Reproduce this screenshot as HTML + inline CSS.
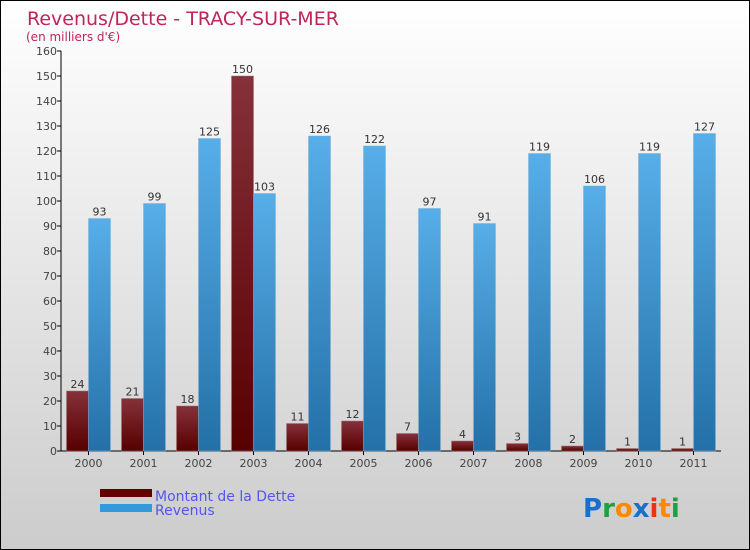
<!DOCTYPE html>
<html><head><meta charset="utf-8"><style>
body{margin:0;}
#wrap{position:relative;width:748px;height:548px;border:1px solid #000;background:linear-gradient(#fff,#ccc);font-family:"DejaVu Sans","Liberation Sans",sans-serif;overflow:hidden}
svg text{font-family:"DejaVu Sans","Liberation Sans",sans-serif}
</style></head><body>
<div id="wrap">
<svg id="chart" width="748" height="548">
<defs>
<linearGradient id="gd" x1="0" y1="0" x2="0" y2="1"><stop offset="0" stop-color="#86303a"/><stop offset="1" stop-color="#560000"/></linearGradient>
<linearGradient id="gr" x1="0" y1="0" x2="0" y2="1"><stop offset="0" stop-color="#57aee8"/><stop offset="1" stop-color="#2470a8"/></linearGradient>
</defs>
<text x="26" y="24" font-size="19" fill="#c0245a">Revenus/Dette - TRACY-SUR-MER</text>
<text x="25" y="40" font-size="12" fill="#c0245a">(en milliers d'€)</text>
<g id="axes"></g><g id="bars"></g>
<rect x="99" y="488" width="52" height="8" fill="#600000"/>
<rect x="99" y="503" width="52" height="8" fill="#3399dd"/>
<text x="154" y="500" font-size="14" fill="#5555ee">Montant de la Dette</text>
<text x="154" y="514" font-size="14" fill="#5555ee">Revenus</text>
<g font-size="26" font-weight="bold">
<text x="582" y="516"><tspan fill="#1a6fcc">P</tspan><tspan fill="#22a040">r</tspan><tspan fill="#ff8800">o</tspan><tspan fill="#1a6fcc">x</tspan><tspan fill="#ee3311">i</tspan><tspan fill="#ff8800">t</tspan><tspan fill="#22a040">i</tspan></text>
</g>
</svg>
</div>
<script>
const categories=["2000","2001","2002","2003","2004","2005","2006","2007","2008","2009","2010","2011"];
const dette=[24,21,18,150,11,12,7,4,3,2,1,1];
const revenus=[93,99,125,103,126,122,97,91,119,106,119,127];
const yTicks=[0,10,20,30,40,50,60,70,80,90,100,110,120,130,140,150,160];
const NS="http://www.w3.org/2000/svg";
const x0=60,base=450,gw=55,yMax=160,yH=400;
const y=v=>base-v/yMax*yH;
const xc=i=>x0+gw*(i+0.5);
function mk(t,a,p){const e=document.createElementNS(NS,t);for(const k in a)e.setAttribute(k,a[k]);p.appendChild(e);return e;}
const ax=document.getElementById('axes'),bs=document.getElementById('bars');
const yl=mk('line',{x1:x0,y1:y(yMax),x2:x0,y2:base,stroke:'#000'},ax);


const xl=mk('line',{x1:x0,y1:base,x2:x0+gw*categories.length,y2:base,stroke:'#000'},ax);


yTicks.forEach(v=>{
 mk('line',{x1:x0-4,y1:y(v),x2:x0,y2:y(v),stroke:'#000'},ax);
 const t=mk('text',{x:x0-4,y:y(v)+4,'text-anchor':'end','font-size':11,fill:'#444'},ax);t.textContent=v;
 
 
});
categories.forEach((c,i)=>{
 const cx=xc(i);
 mk('line',{x1:cx,y1:base,x2:cx,y2:base+4,stroke:'#000'},ax);
 const t=mk('text',{x:cx,y:base+16,'text-anchor':'middle','font-size':11,fill:'#444'},ax);t.textContent=c;
 
 
 const bd=mk('rect',{x:cx-22,y:y(dette[i]),width:22,height:base-y(dette[i]),fill:'url(#gd)',stroke:'#a07070','stroke-width':0.5},bs);
 
 
 const br=mk('rect',{x:cx,y:y(revenus[i]),width:22,height:base-y(revenus[i]),fill:'url(#gr)',stroke:'#80b0d0','stroke-width':0.5},bs);
 
 
 const l1=mk('text',{x:cx-11,y:y(dette[i])-3,'text-anchor':'middle','font-size':11,fill:'#333'},bs);l1.textContent=dette[i];
 
 
 const l2=mk('text',{x:cx+11,y:y(revenus[i])-3,'text-anchor':'middle','font-size':11,fill:'#333'},bs);l2.textContent=revenus[i];
 
 
});
</script>
</body></html>
